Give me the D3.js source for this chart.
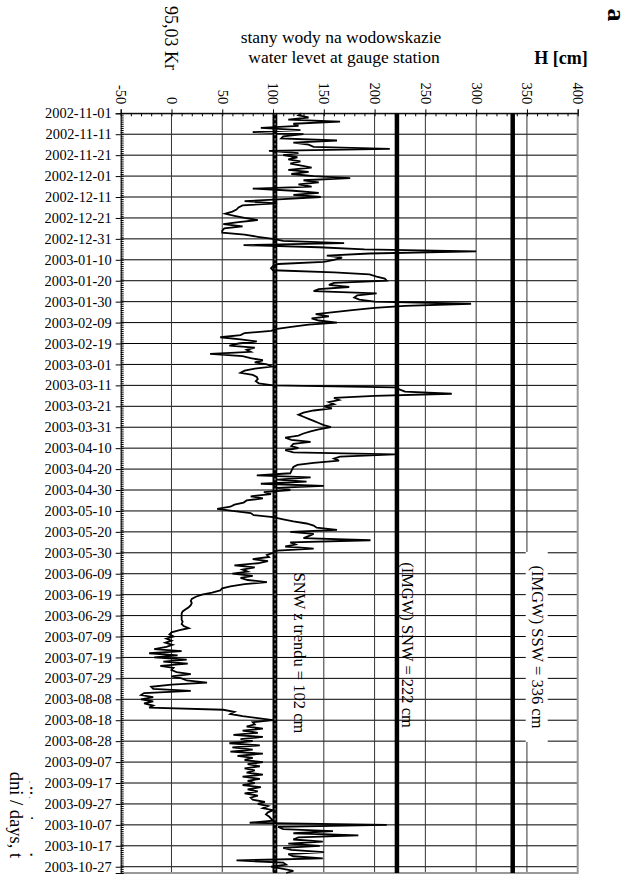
<!DOCTYPE html>
<html>
<head>
<meta charset="utf-8">
<script src="https://cdn.jsdelivr.net/npm/d3@7"></script>
<style>
    body { margin: 0; background: #fff; }
    svg text { font-family: "Liberation Serif", "Times New Roman", serif; fill: #000; }
</style>
</head>
<body>
<script>
"use strict";

// daily water level H [cm], hydrological year starting 2002-11-01
const startDate = "2002-11-01";
const waterLevel = [
    128,125,135,115,166,120,125,88,127,80, 130,110,108,163,120,135,140,215,96,125,
    110,124,115,127,117,128,138,115,135,118, 140,176,130,145,125,138,80,120,145,120,
    147,110,72,104,70,66,64,60,53,62, 72,85,66,51,70,52,50,50,72,85,
    100,110,170,71,145,190,300,195,153,168, 160,150,105,100,98,100,160,195,202,210,
    212,160,155,175,145,140,202,183,180,185, 200,295,230,200,178,160,142,155,138,145,
    163,135,118,104,98,72,68,48,68,84, 66,57,82,74,78,38,70,78,90,82,
    94,99,82,72,68,80,84,85,83,86, 100,220,225,230,276,200,160,165,155,160,
    150,158,140,130,125,130,135,140,145,150, 157,145,137,130,125,112,118,137,120,118,
    125,112,120,220,166,160,165,140,124,120, 119,118,117,84,137,104,133,88,150,104,
    117,91,98,78,90,74,71,62,58,45, 60,78,81,100,110,120,133,140,143,163,
    117,140,135,130,196,117,122,112,140,104, 100,94,96,80,95,85,62,82,70,75,
    60,80,68,75,94,72,58,50,48,40, 30,24,20,19,20,19,17,14,11,10,
    10,10,10,11,10,12,17,8,0,-2, 2,-5,0,-6,1,-5,-17,10,-22,6,
    -17,15,-8,16,-11,2,0,5,19,0, 10,15,35,0,-20,-18,19,-27,-30,-18,
    -30,-18,-27,-18,-22,51,62,58,70,85, 100,80,82,74,90,70,85,61,90,68,
    80,57,87,60,80,58,90,65,80,72, 90,75,87,72,82,74,90,70,87,75,
    82,70,88,75,85,72,85,78,80,92, 85,95,90,100,95,93,96,98,100,77,
    212,105,110,159,120,184,125,120,149,115, 146,110,118,150,115,120,149,64,110,113,
    98,110,120,113
];

const levelTicks = [-50, 0, 50, 100, 150, 200, 250, 300, 350, 400];
const dateTickLabels = [
    "2002-11-01","2002-11-11","2002-11-21","2002-12-01","2002-12-11","2002-12-21",
    "2002-12-31","2003-01-10","2003-01-20","2003-01-30","2003-02-09","2003-02-19",
    "2003-03-01","2003-03-11","2003-03-21","2003-03-31","2003-04-10","2003-04-20",
    "2003-04-30","2003-05-10","2003-05-20","2003-05-30","2003-06-09","2003-06-19",
    "2003-06-29","2003-07-09","2003-07-19","2003-07-29","2003-08-08","2003-08-18",
    "2003-08-28","2003-09-07","2003-09-17","2003-09-27","2003-10-07","2003-10-17",
    "2003-10-27"
];
const refLevels = [102, 222, 336];
const refLabels = ["SNW z trendu = 102 cm", "(IMGW) SNW = 222 cm", "(IMGW) SSW = 336 cm"];

(function(){
    const measurements = {
        width: 631,
        height: 877,
        left: 120.7,
        right: 577.7,
        top: 113.3,
        bottom: 873
    }
    const serif = "Liberation Serif";

    const parse = d3.utcParse("%Y-%m-%d");
    const start = parse(startDate);
    const data = waterLevel.map((v, i) => ({ date: d3.utcDay.offset(start, i), value: v }));
    const tickDates = dateTickLabels.map(parse);

    const svg = d3.select("body").append("svg")
        .attr("width", measurements.width)
        .attr("height", measurements.height)
        .attr("font-family", serif);

    const scaleX = d3.scaleLinear()
        .domain([-50, 400])
        .range([measurements.left, measurements.right]);

    const scaleY = d3.scaleUtc()
        .domain([start, data[data.length - 1].date])
        .range([measurements.top, measurements.bottom]);

    drawGrid();
    drawReferenceLines();
    plotData();
    drawAxes();
    makeLabels();

    function drawGrid() {
        svg.append("g")
            .selectAll("line")
            .data(tickDates)
            .enter().append("line")
            .attr("x1", measurements.left).attr("x2", measurements.right)
            .attr("y1", d => scaleY(d)).attr("y2", d => scaleY(d))
            .attr("stroke", "#000").attr("stroke-width", 1);

        svg.append("g")
            .selectAll("line")
            .data(levelTicks.slice(1, -1))
            .enter().append("line")
            .attr("x1", d => scaleX(d)).attr("x2", d => scaleX(d))
            .attr("y1", measurements.top).attr("y2", measurements.bottom)
            .attr("stroke", "#333").attr("stroke-width", 1);

        // right and bottom frame
        svg.append("path")
            .attr("d", `M${measurements.right},${measurements.top}V${measurements.bottom}H${measurements.left}`)
            .attr("fill", "none")
            .attr("stroke", "#999")
            .attr("stroke-width", 2);
    }

    function drawReferenceLines() {
        const g = svg.append("g");
        g.selectAll("line")
            .data(refLevels)
            .enter().append("line")
            .attr("x1", d => scaleX(d)).attr("x2", d => scaleX(d))
            .attr("y1", measurements.top).attr("y2", measurements.bottom)
            .attr("stroke", "#000")
            .attr("stroke-width", 4.5);

        // the trend line looks dotted
        g.append("line")
            .attr("x1", scaleX(refLevels[0])).attr("x2", scaleX(refLevels[0]))
            .attr("y1", measurements.top).attr("y2", measurements.bottom)
            .attr("stroke", "#999")
            .attr("stroke-width", 1.2)
            .attr("stroke-dasharray", "2,3");

        // white box behind the SSW label
        const ssw = scaleX(refLevels[2]);
        svg.append("rect")
            .attr("x", ssw + 13).attr("y", 552)
            .attr("width", 22).attr("height", 190)
            .attr("fill", "#fff");
    }

    function plotData() {
        const line = d3.line()
            .x(d => scaleX(d.value))
            .y(d => scaleY(d.date));

        svg.append("path")
            .datum(data)
            .attr("d", line)
            .attr("fill", "none")
            .attr("stroke", "#000")
            .attr("stroke-width", 1.8)
            .attr("stroke-linejoin", "miter");
    }

    function drawAxes() {
        // top axis: labelled every 50, minor every 10
        const xAxis = d3.axisTop(scaleX)
            .tickValues(levelTicks)
            .tickFormat(d => String(d))
            .tickSize(4)
            .tickPadding(6);

        const gx = svg.append("g")
            .attr("transform", `translate(0,${measurements.top})`)
            .call(xAxis)
            .attr("font-family", serif);
        gx.select(".domain").attr("stroke", "#000");
        gx.selectAll("text")
            .attr("transform", "rotate(90)")
            .attr("x", -9).attr("y", 0).attr("dy", ".35em")
            .style("text-anchor", "end")
            .style("font-size", "14.5px");

        svg.append("g")
            .attr("transform", `translate(0,${measurements.top})`)
            .call(d3.axisBottom(scaleX).tickValues(d3.range(-50, 401, 10)).tickSize(3).tickFormat(""))
            .select(".domain").remove();

        // left axis: labelled every 10 days, minor every day
        const yAxis = d3.axisLeft(scaleY)
            .tickValues(tickDates)
            .tickFormat(d3.utcFormat("%Y-%m-%d"))
            .tickSize(5)
            .tickPadding(4);

        const gy = svg.append("g")
            .attr("transform", `translate(${measurements.left},0)`)
            .call(yAxis)
            .attr("font-family", serif);
        gy.selectAll("text")
            .style("font-size", "14.4px");

        svg.append("g")
            .attr("transform", `translate(${measurements.left},0)`)
            .call(d3.axisRight(scaleY).tickValues(data.map(d => d.date)).tickSize(3).tickFormat(""))
            .select(".domain").remove();
    }

    function makeLabels() {
        svg.append("text")
            .attr("x", 341).attr("y", 43)
            .style("font-size", "17.5px")
            .style("text-anchor", "middle")
            .text("stany wody na wodowskazie");

        svg.append("text")
            .attr("x", 344).attr("y", 63)
            .style("font-size", "17.5px")
            .style("text-anchor", "middle")
            .text("water levet at gauge station");

        svg.append("text")
            .attr("x", 561).attr("y", 64)
            .style("font-size", "18px")
            .style("font-weight", "bold")
            .style("text-anchor", "middle")
            .text("H [cm]");

        svg.append("text")
            .attr("transform", `translate(${scaleX(0)},38)rotate(90)`)
            .attr("dy", ".35em")
            .style("font-size", "18px")
            .style("text-anchor", "middle")
            .text("95,03 Kr");

        svg.append("text")
            .attr("transform", "translate(617,15)rotate(90)")
            .attr("dy", ".35em")
            .style("font-size", "26px")
            .style("font-weight", "bold")
            .style("text-anchor", "middle")
            .text("a");

        svg.append("text")
            .attr("transform", "translate(16,815)rotate(90)")
            .attr("dy", ".35em")
            .style("font-size", "18.5px")
            .style("text-anchor", "middle")
            .text("dni / days, t");

        // stray marks next to the axis title
        svg.append("text")
            .attr("transform", "translate(32,781)rotate(90)")
            .attr("dy", ".35em")
            .style("font-size", "8px")
            .attr("xml:space", "preserve")
            .text(".  \u25AA \u25AA .         \u2022                 \u25AA");

        svg.append("g")
            .selectAll("text")
            .data(refLabels)
            .enter().append("text")
            .attr("transform", (d, i) => `translate(${scaleX(refLevels[i]) + [25, 11, 25][i]},${[653, 645, 647][i]})rotate(90)`)
            .attr("dy", ".35em")
            .style("font-size", "16.5px")
            .style("text-anchor", "middle")
            .text(d => d);
    }
})()
</script>
</body>
</html>
